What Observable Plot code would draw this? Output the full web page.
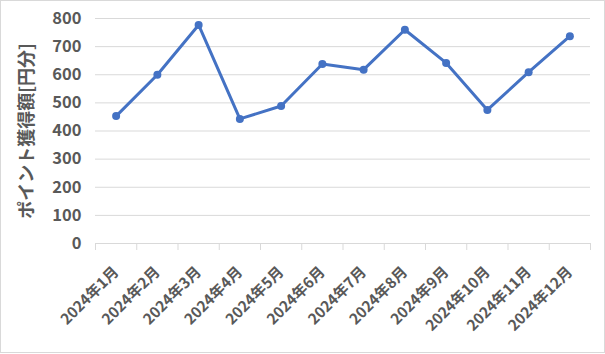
<!DOCTYPE html>
<html><head><meta charset="utf-8">
<script src="https://cdn.jsdelivr.net/npm/d3@7"></script>
<script src="https://cdn.jsdelivr.net/npm/@observablehq/plot@0.6"></script>
<style>
html,body{margin:0;padding:0;background:#fff;}
#wrap{position:relative;width:605px;height:354px;overflow:hidden;}
#frame{position:absolute;left:0;top:0;width:605px;height:353px;box-sizing:border-box;border:1px solid #d9d9d9;pointer-events:none;}
</style></head>
<body><div id="wrap"><div id="frame"></div></div>
<script>
const months = ["2024年1月","2024年2月","2024年3月","2024年4月","2024年5月","2024年6月","2024年7月","2024年8月","2024年9月","2024年10月","2024年11月","2024年12月"];
const points = [453, 600, 777, 443, 489, 638, 618, 760, 642, 475, 609, 737];
const yTicks = [0, 100, 200, 300, 400, 500, 600, 700, 800];
const yTitle = "ポイント獲得額[円分]";

const data = months.map((m, i) => ({month: m, x: i + 0.5, y: points[i]}));
const bounds = d3.range(0, 13);
const font = "'Noto Sans CJK JP', 'Noto Sans', sans-serif";
const textColor = "#595959";

const chart = Plot.plot({
  width: 605,
  height: 354,
  marginLeft: 95,
  marginRight: 15,
  marginTop: 18,
  marginBottom: 111,
  style: {fontFamily: font, background: "transparent"},
  x: {domain: [0, 12], axis: null},
  y: {domain: [0, 800], axis: null},
  marks: [
    Plot.ruleY(yTicks.filter(d => d > 0), {stroke: "#d9d9d9", strokeWidth: 1}),
    Plot.ruleY([0], {stroke: "#d9d9d9", strokeWidth: 1}),
    Plot.ruleX(bounds, {y1: 0, y2: 0, insetBottom: -7, stroke: "#d9d9d9", strokeWidth: 1}),
    Plot.text(yTicks, {x: 0, y: d => d, text: d => String(d), textAnchor: "end", dx: -14, fontSize: 16.5, fontWeight: "bold", fill: textColor}),
    Plot.text(data, {x: "x", y: 0, text: "month", rotate: -45, textAnchor: "end", dy: 26, fontSize: 15, fontWeight: "bold", fill: textColor}),
    Plot.line(data, {x: "x", y: "y", stroke: "#4472C4", strokeWidth: 3}),
    Plot.dot(data, {x: "x", y: "y", r: 4, fill: "#4472C4", stroke: "none"}),
    Plot.text([yTitle], {frameAnchor: "left", textAnchor: "middle", text: d => d, rotate: -90, dx: -68, dy: 0, fontSize: 18, fontWeight: "bold", fill: textColor})
  ]
});
document.getElementById("wrap").prepend(chart);
</script>
</body></html>
